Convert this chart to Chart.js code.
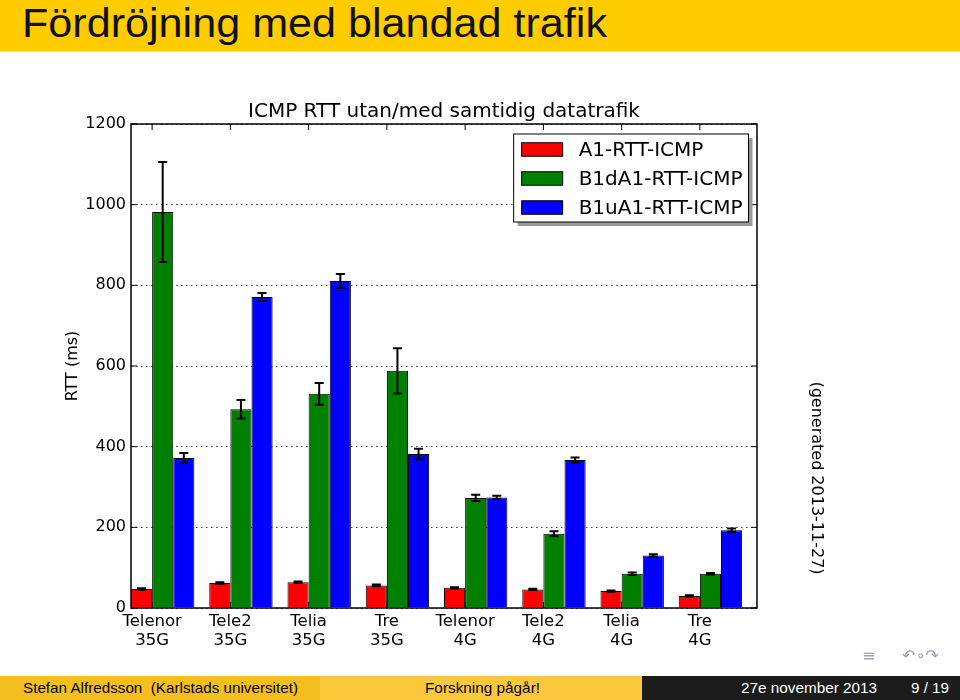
<!DOCTYPE html>
<html><head><meta charset="utf-8">
<script src="https://cdn.jsdelivr.net/npm/chart.js@4.4.0/dist/chart.umd.min.js"></script>
<style>
html,body{margin:0;padding:0;background:#fff;}
#page{position:relative;width:960px;height:700px;overflow:hidden;background:#fff;}
#chart{position:absolute;left:0;top:0;}
#titlebar{position:absolute;left:0;top:0;width:960px;height:51px;background:#FFCC00;border-bottom:1px solid #FFE27A;}
.fit{position:absolute;white-space:nowrap;transform-origin:0 0;}
#titletext{left:22px;top:3px;font-family:"Liberation Sans Narrow","Liberation Sans",sans-serif;font-size:40px;line-height:40px;color:#111;}
.fbox{position:absolute;top:676px;height:24px;}
.ftxt{top:676px;font-family:"Liberation Sans Narrow","Liberation Sans",sans-serif;font-size:15px;line-height:24px;}
.nav{position:absolute;top:646px;font-family:"DejaVu Sans",sans-serif;font-size:16px;line-height:20px;color:#a0a0b8;white-space:nowrap;}
</style></head>
<body><div id="page">
<canvas id="chart" width="960" height="700"></canvas>
<div id="titlebar"></div>
<div id="titletext" class="fit" data-w="585">Fördröjning med blandad trafik</div>
<div class="fbox" style="left:0;width:320px;background:#F4BE1E;"></div>
<div class="fbox" style="left:320px;width:322px;background:#FAC83A;"></div>
<div class="fbox" style="left:642px;width:318px;background:#1C1C1C;"></div>
<div class="fit ftxt" data-w="275" style="left:23px;color:#000;">Stefan Alfredsson&nbsp;&nbsp;(Karlstads universitet)</div>
<div class="fit ftxt" data-w="115" style="left:425px;color:#000;">Forskning pågår!</div>
<div class="fit ftxt" data-w="136" style="left:741px;color:#fff;">27e november 2013</div>
<div class="fit ftxt" data-w="38" style="left:911px;color:#fff;">9 / 19</div>
<div class="nav" style="left:862px;">≡</div>
<div class="nav" style="left:902px;">↶∘↷</div>
</div>
<script>
// ---- data ----
const categories = [["Telenor","35G"],["Tele2","35G"],["Telia","35G"],["Tre","35G"],["Telenor","4G"],["Tele2","4G"],["Telia","4G"],["Tre","4G"]];
const seriesNames = ["A1-RTT-ICMP","B1dA1-RTT-ICMP","B1uA1-RTT-ICMP"];
const a1Values   = [47, 62, 64, 56, 50, 46, 42, 30];
const a1Errors   = [2, 2, 2, 2, 1.5, 1.5, 1.5, 1.5];
const b1dValues  = [982, 493, 531, 588, 273, 184, 85, 85];
const b1dErrors  = [124, 23, 27, 56, 8, 6, 3, 2];
const b1uValues  = [372, 771, 811, 382, 274, 367, 130, 193];
const b1uErrors  = [12, 10, 17, 13, 4, 6, 3, 4];
const yTickValues = [0, 200, 400, 600, 800, 1000, 1200];
const chartTitle = "ICMP RTT utan/med samtidig datatrafik";
const yAxisTitle = "RTT (ms)";
const sideNote = "(generated 2013-11-27)";

// fit HTML text widths
document.querySelectorAll('.fit').forEach(el=>{
  const w = el.getBoundingClientRect().width;
  const target = parseFloat(el.dataset.w);
  if (w>0) el.style.transform = 'scaleX(' + (target/w) + ')';
});

const BAR_W = 0.27;              // bar width in category units (matplotlib style)
const GROUP_CENTER = BAR_W * 1.5;
const FONT = '"DejaVu Sans", sans-serif';

function mk(name, values, errors, color){
  return {
    label: name,
    data: values.map((v,i)=>({x: i + GROUP_CENTER, y: v})),
    errors: errors,
    backgroundColor: color,
    borderColor: '#000',
    borderWidth: 1
  };
}

const decor = {
  id: 'decor',
  afterDatasetsDraw(chart){
    const ctx = chart.ctx, a = chart.chartArea, xs = chart.scales.x, ys = chart.scales.y;
    // error bars
    chart.data.datasets.forEach((ds, di)=>{
      const meta = chart.getDatasetMeta(di);
      meta.data.forEach((bar, i)=>{
        const v = ds.data[i].y, e = ds.errors[i];
        const yT = ys.getPixelForValue(v + e), yB = ys.getPixelForValue(v - e);
        ctx.save();
        ctx.strokeStyle = '#000'; ctx.lineWidth = 2;
        ctx.beginPath();
        ctx.moveTo(bar.x, yT); ctx.lineTo(bar.x, yB);
        ctx.moveTo(bar.x - 4.5, yT); ctx.lineTo(bar.x + 4.5, yT);
        ctx.moveTo(bar.x - 4.5, yB); ctx.lineTo(bar.x + 4.5, yB);
        ctx.stroke();
        ctx.restore();
      });
    });
    // frame and inward ticks
    ctx.save();
    ctx.strokeStyle = '#000';
    ctx.lineWidth = 1;
    ctx.beginPath();
    ys.ticks.forEach(t=>{
      const py = ys.getPixelForValue(t.value);
      ctx.moveTo(a.left, py); ctx.lineTo(a.left + 6, py);
      ctx.moveTo(a.right, py); ctx.lineTo(a.right - 6, py);
    });
    xs.ticks.forEach(t=>{
      const px = xs.getPixelForValue(t.value);
      ctx.moveTo(px, a.top); ctx.lineTo(px, a.top + 6);
      ctx.moveTo(px, a.bottom); ctx.lineTo(px, a.bottom - 6);
    });
    ctx.stroke();
    ctx.lineWidth = 1.5;
    ctx.strokeRect(a.left, a.top, a.right - a.left, a.bottom - a.top);
    ctx.restore();
  },
  afterDraw(chart){
    const ctx = chart.ctx, a = chart.chartArea;
    // legend
    ctx.save();
    ctx.font = '20px ' + FONT;
    const dss = chart.data.datasets;
    let maxW = 0;
    dss.forEach(ds=>{ maxW = Math.max(maxW, ctx.measureText(ds.label).width); });
    const padL = 8, sw = 41, sh = 13.5, gap = 16, padR = 6, rowH = 29;
    const bw = padL + sw + gap + maxW + padR;
    const bh = 88;
    const right = a.right - 8.5, top = a.top + 10, left = right - bw;
    ctx.fillStyle = '#9a9a9a';
    ctx.fillRect(left + 4, top + 4, bw, bh);
    ctx.fillStyle = '#fff';
    ctx.fillRect(left, top, bw, bh);
    ctx.strokeStyle = '#000'; ctx.lineWidth = 1;
    ctx.strokeRect(left, top, bw, bh);
    dss.forEach((ds, k)=>{
      const cy = top + 15.5 + rowH * k;
      ctx.fillStyle = ds.backgroundColor;
      ctx.fillRect(left + padL, cy - sh/2, sw, sh);
      ctx.strokeStyle = '#000';
      ctx.strokeRect(left + padL, cy - sh/2, sw, sh);
      ctx.fillStyle = '#000';
      ctx.textAlign = 'left'; ctx.textBaseline = 'middle';
      ctx.fillText(ds.label, left + padL + sw + gap, cy + 1);
    });
    ctx.restore();
    // side note
    ctx.save();
    ctx.font = '16px ' + FONT;
    ctx.fillStyle = '#000';
    ctx.translate(a.right + 59, (a.top + a.bottom) / 2 + 112);
    ctx.rotate(Math.PI / 2);
    ctx.textAlign = 'center'; ctx.textBaseline = 'middle';
    ctx.fillText(sideNote, 0, 0);
    ctx.restore();
  }
};

new Chart(document.getElementById('chart'), {
  type: 'bar',
  data: {
    datasets: [
      mk(seriesNames[0], a1Values, a1Errors, '#FF0000'),
      mk(seriesNames[1], b1dValues, b1dErrors, '#008000'),
      mk(seriesNames[2], b1uValues, b1uErrors, '#0000FF')
    ]
  },
  options: {
    responsive: false,
    animation: false,
    devicePixelRatio: 1,
    layout: { padding: { left: 55, right: 203, top: 0, bottom: 0 } },
    datasets: { bar: { categoryPercentage: BAR_W * 3, barPercentage: 1 } },
    plugins: {
      legend: { display: false },
      tooltip: { enabled: false },
      title: {
        display: true, text: chartTitle, fullSize: false, color: '#000',
        font: { family: FONT, size: 20, weight: 'normal' },
        padding: { top: 100, bottom: 0 }
      }
    },
    scales: {
      x: {
        type: 'linear', min: 0, max: categories.length, offset: false,
        grid: { display: false, offset: false },
        border: { display: false },
        afterBuildTicks: (s)=>{ s.ticks = categories.map((c,i)=>({ value: i + BAR_W })); },
        afterFit: (s)=>{ s.height = 92; },
        ticks: {
          autoSkip: false, maxRotation: 0, minRotation: 0, padding: -3, color: '#000',
          font: { family: FONT, size: 16.5, lineHeight: 1.1 },
          callback: (v, i)=> categories[i]
        }
      },
      y: {
        min: 0, max: 1200,
        afterBuildTicks: (s)=>{ s.ticks = yTickValues.map(v=>({ value: v })); },
        afterFit: (s)=>{ s.width = 76; },
        grid: { drawTicks: false, color: '#444', lineWidth: 1 },
        border: { display: false, dash: [1.5, 3.5] },
        ticks: { padding: 5, color: '#000', font: { family: FONT, size: 16 }, callback: (v)=> String(v) },
        title: {
          display: true, text: yAxisTitle, color: '#000',
          font: { family: FONT, size: 16 }, padding: { top: 8, bottom: 0 }
        }
      }
    }
  },
  plugins: [decor]
});
</script>
</body></html>
